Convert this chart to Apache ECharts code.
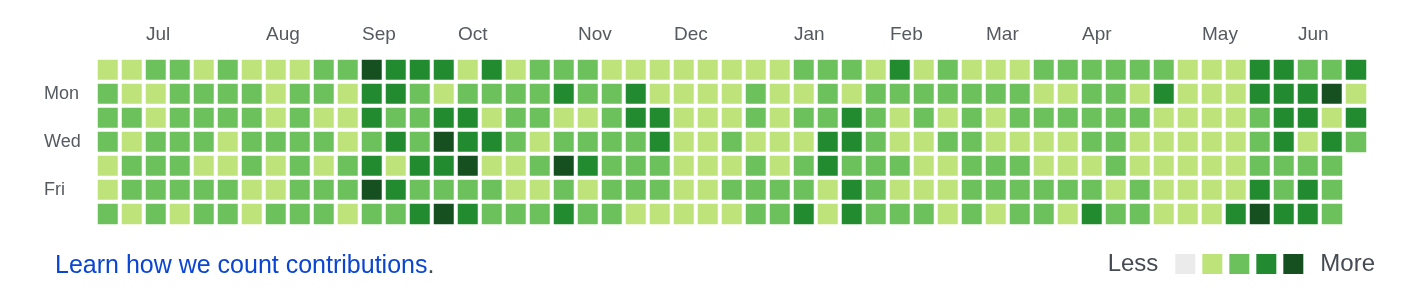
<!DOCTYPE html>
<html>
<head>
<meta charset="utf-8">
<script src="https://cdn.jsdelivr.net/npm/echarts@6/dist/echarts.min.js"></script>
<style>
  html, body { margin: 0; padding: 0; background: #fff; }
  #chart { width: 1416px; height: 294px; }
</style>
</head>
<body>
<div id="chart"></div>
<script>
// Contribution level per day (0 none .. 4 most); one array per weekday row (Sun..Sat), one entry per week column
const row0 = [1,1,2,2,1,2,1,1,1,2,2,4,3,3, 3,1,3,1,2,2,2,1,1,1,1,1,1, 1,1,2,2,2,1,3,1,2,1,1,1,2, 2,2,2,2,2,1,1,1,3,3,2,2,3];
const row1 = [2,1,1,2,2,2,2,1,2,2,1,3,3,2, 1,2,2,2,2,3,2,2,3,1,1,1,1, 2,1,1,2,1,2,2,2,2,2,2,2,1, 1,2,2,1,3,1,1,1,3,3,3,4,1];
const row2 = [2,2,1,2,2,2,2,1,2,1,1,3,2,2, 3,3,1,2,2,1,1,2,3,3,1,1,1, 2,1,2,2,3,2,1,2,1,2,1,2,2, 2,2,2,2,1,1,1,1,2,3,3,1,3];
const row3 = [2,1,2,2,2,1,2,2,2,2,1,2,3,2, 4,3,3,2,1,2,2,2,2,3,1,1,2, 1,1,1,3,3,2,1,1,2,2,1,1,1, 1,2,2,1,1,1,1,1,2,3,1,3,2];
const row4 = [1,2,2,2,1,1,2,1,2,1,2,3,1,3, 3,4,1,1,2,4,3,2,2,2,1,1,1, 2,1,2,3,2,2,2,1,1,2,2,2,1, 1,1,2,1,1,1,1,1,2,2,2,2];
const row5 = [1,2,2,2,2,2,1,1,2,2,2,4,3,2, 2,2,2,1,1,2,1,2,2,2,1,1,2, 2,2,2,1,3,2,1,1,1,2,2,2,2, 2,2,1,2,1,1,1,1,3,2,3,2];
const row6 = [2,1,2,1,2,2,1,2,2,2,1,2,2,3, 4,3,2,2,2,3,2,2,1,1,1,1,1, 2,2,3,1,3,2,2,2,1,2,1,2,2, 1,3,2,2,1,1,1,3,4,3,3,2];

const dayLabels = ['', 'Mon', '', 'Wed', '', 'Fri', ''];
// month name shown above the week column where it starts
const monthNames = ['Jul', 'Aug', 'Sep', 'Oct', 'Nov', 'Dec', 'Jan', 'Feb', 'Mar', 'Apr', 'May', 'Jun'];
const monthWeek  = [2, 7, 11, 15, 20, 24, 29, 33, 37, 41, 46, 50];
const levelColors = ['#ebebeb', '#bee37a', '#6cc15d', '#228b30', '#175020'];
const levelValues = [0, 1, 2, 3, 4];
const weekCount = 53;

const rows = [row0, row1, row2, row3, row4, row5, row6];
const weeks = Array.from({length: weekCount}, (_, i) => String(i));
const data = [];
rows.forEach((r, d) => r.forEach((v, w) => data.push([w, d, v])));
const monthAt = {};
monthWeek.forEach((w, i) => { monthAt[w] = monthNames[i]; });

const FONT = '"Liberation Sans", Arial, sans-serif';
const chart = echarts.init(document.getElementById('chart'), null, { renderer: 'canvas' });
chart.setOption({
  animation: false,
  backgroundColor: '#fff',
  grid: { left: 96, top: 58, width: 1272, height: 168 },
  xAxis: [
    {
      type: 'category', data: weeks, show: false
    },
    {
      type: 'value', position: 'top', min: 0, max: weekCount, interval: 1,
      axisLine: { show: false }, axisTick: { show: false }, splitLine: { show: false },
      axisLabel: {
        align: 'left', margin: 14, padding: [0, 0, 0, 2],
        color: '#555a60', fontSize: 19, fontFamily: FONT,
        formatter: v => monthAt[v] || ''
      }
    }
  ],
  yAxis: {
    type: 'category', data: dayLabels, inverse: true,
    axisLine: { show: false }, axisTick: { show: false }, splitLine: { show: false },
    axisLabel: { interval: 0, align: 'left', margin: 52, color: '#555a60', fontSize: 18, fontFamily: FONT }
  },
  visualMap: {
    type: 'piecewise', orient: 'horizontal', right: 31, top: 252, padding: 0,
    pieces: levelValues.map((v, i) => ({ value: v, color: levelColors[i] })),
    itemWidth: 20, itemHeight: 20, itemGap: 7, itemSymbol: 'rect',
    text: ['More', 'Less'],
    textStyle: { color: '#444b52', fontSize: 24, fontFamily: FONT, padding: [0, 10, 0, 10], backgroundColor: '#fff' },
    selectedMode: false
  },
  title: {
    left: 55, top: 254, padding: 0,
    text: '{a|Learn how we count contributions}{b|.}',
    textStyle: {
      fontFamily: FONT, fontSize: 25, fontWeight: 'normal',
      rich: {
        a: { color: '#0b45d3', fontSize: 25, fontFamily: FONT },
        b: { color: '#444b52', fontSize: 25, fontFamily: FONT }
      }
    }
  },
  series: [{
    type: 'heatmap', xAxisIndex: 0, yAxisIndex: 0, data: data,
    itemStyle: { borderColor: '#fff', borderWidth: 4 },
    emphasis: { disabled: true }
  }]
});
</script>
</body>
</html>
